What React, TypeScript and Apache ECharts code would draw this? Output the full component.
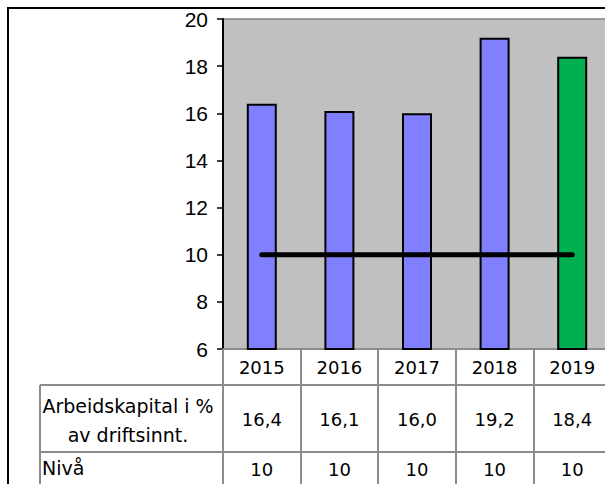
import React, { useEffect, useRef } from "react";
import * as echarts from "echarts";

const years = ["2015", "2016", "2017", "2018", "2019"];
const arbeidskapital = [16.4, 16.1, 16.0, 19.2, 18.4];
const niva = [10, 10, 10, 10, 10];
const rowLabels = ["Arbeidskapital i %\nav driftsinnt.", "Nivå"];
const yTicks = { min: 6, max: 20, interval: 2 };

const fmt = (v: number) => v.toFixed(1).replace(".", ",");

export default function App() {
  const ref = useRef<HTMLDivElement>(null);
  useEffect(() => {
    if (!ref.current) return;
    const chart = echarts.init(ref.current, null, { renderer: "svg" });
    const tableFont = "DejaVu Sans";
    const gridLine = "#8c8c8c";
    chart.setOption({
      animation: false,
      backgroundColor: "#ffffff",
      grid: {
        left: 223,
        width: 388,
        top: 19,
        height: 330,
        show: true,
        backgroundColor: "#C0C0C0",
        borderColor: "#808080",
        borderWidth: 1.5,
        containLabel: false,
        outerBoundsMode: "none",
      },
      xAxis: [
        {
          type: "category",
          data: years,
          position: "bottom",
          axisLine: { show: true, lineStyle: { color: gridLine, width: 2 } },
          axisTick: { show: true, interval: 0, length: 140, lineStyle: { color: gridLine, width: 2 } },
          axisLabel: {
            interval: 0,
            margin: 18,
            verticalAlign: "middle",
            fontFamily: tableFont,
            fontSize: 18,
            color: "#000",
          },
        },
        {
          type: "category",
          data: arbeidskapital.map(fmt),
          position: "bottom",
          offset: 36,
          axisLine: { show: true, lineStyle: { color: gridLine, width: 2 } },
          axisTick: { show: false },
          axisLabel: {
            interval: 0,
            margin: 34,
            verticalAlign: "middle",
            fontFamily: tableFont,
            fontSize: 18,
            color: "#000",
          },
        },
        {
          type: "category",
          data: niva.map((v) => String(v)),
          position: "bottom",
          offset: 103,
          axisLine: { show: true, lineStyle: { color: gridLine, width: 2 } },
          axisTick: { show: false },
          axisLabel: {
            interval: 0,
            margin: 17,
            verticalAlign: "middle",
            fontFamily: tableFont,
            fontSize: 18,
            color: "#000",
          },
        },
      ],
      yAxis: {
        type: "value",
        min: yTicks.min,
        max: yTicks.max,
        interval: yTicks.interval,
        splitLine: { show: false },
        axisLine: { show: true, lineStyle: { color: "#000", width: 2 } },
        axisTick: { show: true, length: 6, lineStyle: { color: "#000", width: 1.5 } },
        axisLabel: {
          margin: 15,
          fontFamily: "Liberation Sans",
          fontSize: 21,
          color: "#000",
        },
      },
      series: [
        {
          type: "bar",
          xAxisIndex: 0,
          barWidth: 30,
          data: arbeidskapital.map((v, i) => ({
            value: v,
            itemStyle: { color: i === years.length - 1 ? "#00B050" : "#8080FF" },
          })),
          itemStyle: { borderColor: "#000", borderWidth: 2 },
          z: 2,
        },
        {
          type: "line",
          xAxisIndex: 0,
          data: niva,
          symbol: "none",
          lineStyle: { color: "#000", width: 5, cap: "round" },
          z: 3,
        },
      ],
      graphic: [
        {
          type: "rect",
          shape: { x: 8, y: 8, width: 640, height: 520 },
          style: { fill: "none", stroke: "#000", lineWidth: 2 },
          z: 10,
        },
        {
          type: "line",
          shape: { x1: 40, y1: 385, x2: 223, y2: 385 },
          style: { stroke: gridLine, lineWidth: 2 },
        },
        {
          type: "line",
          shape: { x1: 40, y1: 452, x2: 223, y2: 452 },
          style: { stroke: gridLine, lineWidth: 2 },
        },
        {
          type: "line",
          shape: { x1: 40, y1: 385, x2: 40, y2: 490 },
          style: { stroke: gridLine, lineWidth: 2 },
        },
        {
          type: "text",
          x: 128,
          y: 420,
          style: {
            text: rowLabels[0],
            fontFamily: tableFont,
            fontSize: 19,
            lineHeight: 29,
            fill: "#000",
            align: "center",
            verticalAlign: "middle",
          },
        },
        {
          type: "text",
          x: 42,
          y: 468,
          style: {
            text: rowLabels[1],
            fontFamily: tableFont,
            fontSize: 19,
            fill: "#000",
            align: "left",
            verticalAlign: "middle",
          },
        },
      ],
    });
    return () => chart.dispose();
  }, []);
  return (
    <div
      ref={ref}
      style={{ position: "fixed", left: 0, top: 0, width: 605, height: 484 }}
    />
  );
}
